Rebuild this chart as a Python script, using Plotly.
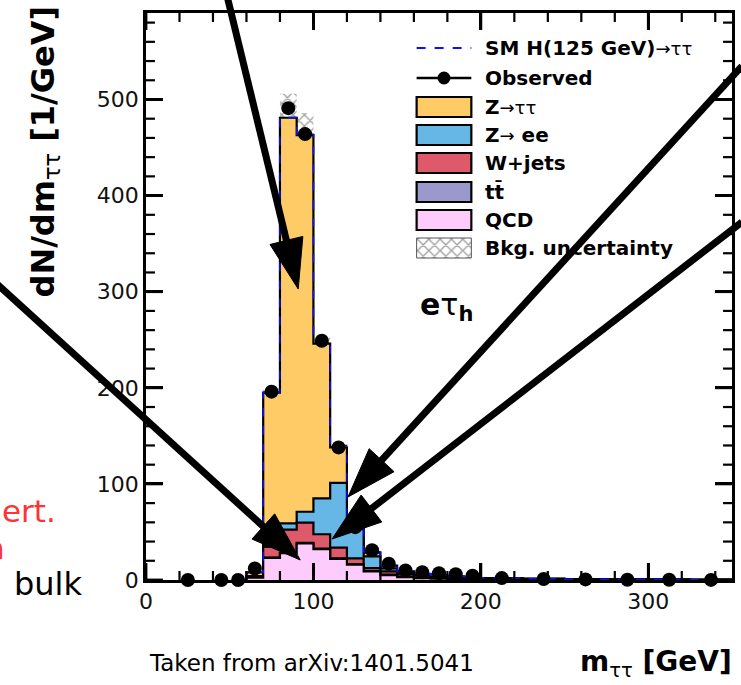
import numpy as np
import plotly.graph_objects as go

# ---------------- data ----------------
bin_edges = [60, 70, 80, 90, 100, 110, 120, 130, 140, 150, 160, 170, 180, 190,
             200, 225, 250, 275, 300, 325, 350]

qcd   = [2.5, 23, 28, 38, 32, 22, 16, 9, 5, 3, 2, 1.5, 1.2, 1.0, 0.6, 0.4, 0.25, 0.15, 0.1, 0.05]
wjets = [1.0, 11, 24, 21, 15, 11, 6, 3, 3.5, 2.5, 2, 1.5, 1.2, 1.0, 0.7, 0.4, 0.3, 0.2, 0.1, 0.1]
ttbar = [0.1, 0.4, 0.5, 0.6, 0.6, 0.6, 0.6, 0.5, 0.5, 0.4, 0.4, 0.3, 0.3, 0.3, 0.2, 0.2, 0.1, 0.1, 0.1, 0.05]
zee   = [0.4, 1.6, 6.5, 11.4, 37.4, 67.4, 30.4, 12, 3, 1, 0.5, 0.3, 0.2, 0.2, 0.1, 0.1, 0.05, 0.05, 0.0, 0.0]
ztt   = [4.0, 159, 422, 392, 161, 37, 2, 4, 3, 2, 1.5, 1.2, 1.0, 0.8, 0.5, 0.3, 0.2, 0.1, 0.1, 0.05]
higgs = [0, 0, 0.3, 0.8, 1.5, 2.0, 1.5, 1.0, 0.5, 0.3, 0.2, 0.1, 0, 0, 0, 0, 0, 0, 0, 0]
bkg_unc = [1, 8, 25, 23, 8, 5, 3, 2, 1, 1, 0.5, 0.5, 0.5, 0.5, 0.3, 0.2, 0.1, 0.1, 0.1, 0.05]

obs_mass = [25, 45, 55, 65, 75, 85, 95, 105, 115, 125, 135, 145, 155, 165, 175, 185, 195,
            212.5, 237.5, 262.5, 287.5, 312.5, 337.5]
obs_vals = [0, 0, 0, 12, 196, 491, 464, 249, 138, 55, 31, 17, 10, 8, 7, 6, 4.5,
            2, 1, 0.6, 0.3, 0.2, 0.1]

x_ticks = [0, 100, 200, 300]
y_ticks = [0, 100, 200, 300, 400, 500]
minor_step = 20
x_range = [0, 350]
y_range = [0, 590]

legend_labels = ["<b>SM H(125 GeV)</b><span style='font-size:18px'>→ττ</span>",
                 "<b>Observed</b>", "<b>Z</b><span style='font-size:18px'>→ττ</span>",
                 "<b>Z</b><span style='font-size:18px'>→</span><b> ee</b>", "<b>W+jets</b>",
                 "<b>tt\u0304</b>", "<b>QCD</b>", "<b>Bkg. uncertainty</b>"]

col_ztt, col_zee, col_w, col_tt, col_qcd = "#FECB67", "#66B7E6", "#DE5A6A", "#9B99CC", "#FECBFD"
col_sig = "#1010EE"

# ---------------- page geometry (pixels) ----------------
W, H = 741, 685
L, R, T, B = 146, 735, 13, 580


def px(x):
    return (x - L) / (R - L)


def py(y):
    return (B - y) / (B - T)


def data_x(x):
    return x_range[0] + px(x) * (x_range[1] - x_range[0])


def data_y(y):
    return y_range[0] + py(y) * (y_range[1] - y_range[0])


edges = np.array(bin_edges, dtype=float)
centers = 0.5 * (edges[:-1] + edges[1:])
widths = np.diff(edges)


def step_xy(level):
    xs = [float(edges[0])] + [float(e) for e in edges[:-1]] + [float(edges[-1])] * 2
    ys = [0.0] + [float(v) for v in level] + [float(level[-1]), 0.0]
    return xs, ys


c_qcd = np.array(qcd)
c_tt = c_qcd + np.array(ttbar)
c_w = c_tt + np.array(wjets)
c_zee = c_w + np.array(zee)
c_ztt = c_zee + np.array(ztt)
c_sig = c_ztt + np.array(higgs)

fig = go.Figure()

# stacked backgrounds, top level first so lower ones paint over it
for level, colr in [(c_ztt, col_ztt), (c_zee, col_zee), (c_w, col_w), (c_tt, col_tt), (c_qcd, col_qcd)]:
    xs, ys = step_xy(level)
    fig.add_trace(go.Scatter(x=xs, y=ys, mode="lines", line_shape="hv",
                             line=dict(color="black", width=2.2),
                             fill="tozeroy", fillcolor=colr, hoverinfo="skip"))

# SM Higgs on top of the stack
xs, ys = step_xy(c_sig)
fig.add_trace(go.Scatter(x=xs, y=ys, mode="lines", line_shape="hv",
                         line=dict(color=col_sig, width=1.5, dash="dash"), hoverinfo="skip"))

hatch = dict(shape="x", fgcolor="#484848", size=8, solidity=0.32, fillmode="overlay")

# background uncertainty band
unc = np.array(bkg_unc)
fig.add_trace(go.Bar(x=centers, y=2 * unc, base=c_ztt - unc, width=widths,
                     marker=dict(color="rgba(0,0,0,0)", line=dict(width=0), pattern=hatch),
                     hoverinfo="skip"))

# ---------------- tick marks, pointing inwards on all four sides ----------------
major_len_px, minor_len_px = 17, 9
sx = (x_range[1] - x_range[0]) / (R - L)   # data units per pixel
sy = (y_range[1] - y_range[0]) / (B - T)
major_dx, major_dy = x_ticks[1] - x_ticks[0], y_ticks[1] - y_ticks[0]

for along_x, step in [(True, major_dx), (False, major_dy)]:
    lo, hi = (x_range if along_x else y_range)
    vals = [float(v) for v in np.arange(lo, hi + 1e-9, minor_step)]
    for is_major, wd in [(True, 2.8), (False, 2.2)]:
        tx, ty = [], []
        for v in vals:
            if (abs(v % step) < 1e-9) != is_major:
                continue
            ln = major_len_px if is_major else minor_len_px
            if along_x:
                d = ln * sy
                for y0, y1 in [(y_range[0], y_range[0] + d), (y_range[1], y_range[1] - d)]:
                    tx.append(v); ty.append(y0)
                    tx.append(v); ty.append(y1)
                    tx.append(None); ty.append(None)
            else:
                d = ln * sx
                for x0, x1 in [(x_range[0], x_range[0] + d), (x_range[1], x_range[1] - d)]:
                    tx.append(x0); ty.append(v)
                    tx.append(x1); ty.append(v)
                    tx.append(None); ty.append(None)
        fig.add_trace(go.Scatter(x=tx, y=ty, mode="lines", connectgaps=False,
                                 line=dict(color="black", width=wd),
                                 hoverinfo="skip", cliponaxis=False))

# observed data
fig.add_trace(go.Scatter(x=obs_mass, y=obs_vals, mode="markers",
                         marker=dict(color="black", size=14), cliponaxis=False))

# ---------------- legend ----------------
leg_x0, leg_x1, leg_text_x = 418, 473, 485
leg_rows = [48, 78, 107, 135, 163, 192, 220, 248]
box_h = 10

shapes = []
shapes.append(dict(type="line", xref="paper", yref="paper",
                   x0=px(leg_x0), x1=px(leg_x1), y0=py(leg_rows[0]), y1=py(leg_rows[0]),
                   line=dict(color=col_sig, width=2, dash="dash")))
shapes.append(dict(type="line", xref="paper", yref="paper",
                   x0=px(leg_x0), x1=px(leg_x1), y0=py(leg_rows[1]), y1=py(leg_rows[1]),
                   line=dict(color="black", width=2.5)))
mid = 0.5 * (leg_x0 + leg_x1)
shapes.append(dict(type="circle", xref="paper", yref="paper",
                   x0=px(mid - 6.5), x1=px(mid + 6.5), y0=py(leg_rows[1] - 6.5), y1=py(leg_rows[1] + 6.5),
                   fillcolor="black", line=dict(color="black", width=0)))
for row, colr in zip(leg_rows[2:7], [col_ztt, col_zee, col_w, col_tt, col_qcd]):
    shapes.append(dict(type="rect", xref="paper", yref="paper",
                       x0=px(leg_x0), x1=px(leg_x1), y0=py(row - box_h), y1=py(row + box_h),
                       fillcolor=colr, line=dict(color="black", width=2.2)))
row = leg_rows[7]
fig.add_trace(go.Bar(x=[data_x(mid)], y=[data_y(row - box_h) - data_y(row + box_h)],
                     base=[data_y(row + box_h)], width=[data_x(leg_x1) - data_x(leg_x0)],
                     marker=dict(color="white", line=dict(color="#555555", width=1), pattern=hatch),
                     hoverinfo="skip"))

annotations = []
for row, lab in zip(leg_rows, legend_labels):
    annotations.append(dict(x=px(leg_text_x), y=py(row), xref="paper", yref="paper",
                            text=lab, showarrow=False, xanchor="left", yanchor="middle",
                            font=dict(family="DejaVu Sans", size=20, color="black")))

# channel label
annotations.append(dict(x=px(419), y=py(306), xref="paper", yref="paper",
                        text="<b>e</b>τ<sub><b>h</b></sub>", showarrow=False,
                        xanchor="left", yanchor="middle",
                        font=dict(family="DejaVu Sans", size=30, color="black")))

# axis titles
annotations.append(dict(x=px(44), y=py(4), xref="paper", yref="paper",
                        text="<b>dN/dm</b><sub>ττ</sub><b> [1/GeV]</b>", textangle=-90,
                        showarrow=False, xanchor="center", yanchor="top",
                        font=dict(family="DejaVu Sans", size=32, color="black")))
annotations.append(dict(x=px(737), y=py(684), xref="paper", yref="paper",
                        text="<b>m</b><sub>ττ</sub><b> [GeV]</b>",
                        showarrow=False, xanchor="right", yanchor="bottom",
                        font=dict(family="DejaVu Sans", size=28, color="black")))

# slide texts
annotations.append(dict(x=px(147), y=py(663), xref="paper", yref="paper",
                        text="Taken from arXiv:1401.5041", showarrow=False,
                        xanchor="left", yanchor="middle",
                        font=dict(family="DejaVu Sans", size=23, color="black")))
annotations.append(dict(x=px(11), y=py(584), xref="paper", yref="paper",
                        text="bulk", showarrow=False, xanchor="left", yanchor="middle",
                        font=dict(family="DejaVu Sans", size=32, color="black")))
annotations.append(dict(x=px(58), y=py(511), xref="paper", yref="paper",
                        text="ert.", showarrow=False, xanchor="right", yanchor="middle",
                        font=dict(family="DejaVu Sans", size=31, color="#FF3333")))
annotations.append(dict(x=px(6), y=py(548), xref="paper", yref="paper",
                        text="n", showarrow=False, xanchor="right", yanchor="middle",
                        font=dict(family="DejaVu Sans", size=31, color="#FF3333")))

# ---------------- pointer arrows ----------------
arrows = [((226, -10), (299, 289)),
          ((-5, 283), (301, 560)),
          ((745, 66), (349, 497)),
          ((745, 222), (333, 539))]
head_len, head_half = 50, 17
for (x0, y0), (x1, y1) in arrows:
    d = np.array([x1 - x0, y1 - y0], dtype=float)
    u = d / np.linalg.norm(d)
    p = np.array([-u[1], u[0]])
    base = np.array([x1, y1]) - head_len * u
    shapes.append(dict(type="line", xref="paper", yref="paper",
                       x0=px(x0), y0=py(y0), x1=px(base[0] + 2 * u[0]), y1=py(base[1] + 2 * u[1]),
                       line=dict(color="black", width=7)))
    a = base + head_half * p
    b = base - head_half * p
    path = "M {} {} L {} {} L {} {} Z".format(px(x1), py(y1), px(a[0]), py(a[1]), px(b[0]), py(b[1]))
    shapes.append(dict(type="path", xref="paper", yref="paper", path=path,
                       fillcolor="black", line=dict(color="black", width=1)))

tickfont = dict(family="DejaVu Sans", size=22, color="#111111")
axis_style = dict(ticks="inside", ticklen=major_len_px, tickwidth=2.8, tickcolor="black",
                  showline=True, linewidth=2.8, linecolor="black", mirror="ticks",
                  showgrid=False, zeroline=False, tickfont=tickfont)

fig.update_layout(
    width=W, height=H,
    margin=dict(l=L, r=W - R, t=T, b=H - B, pad=0),
    paper_bgcolor="white", plot_bgcolor="white",
    showlegend=False, barmode="overlay",
    annotations=annotations, shapes=shapes,
    xaxis=dict(range=x_range, tickmode="array", tickvals=x_ticks, **axis_style),
    yaxis=dict(range=y_range, tickmode="array", tickvals=y_ticks, **axis_style),
)

fig.write_html("out.html")
